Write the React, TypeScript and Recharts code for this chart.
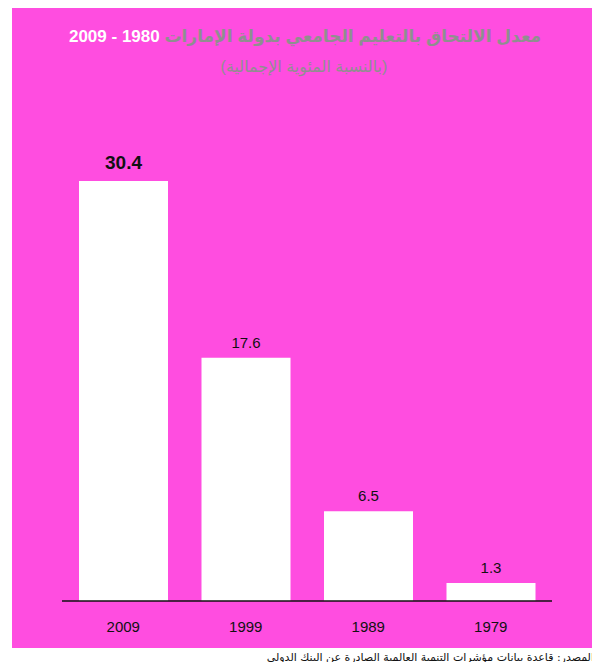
import React from "react";
import { BarChart, Bar, XAxis, YAxis, LabelList } from "recharts";

const years = ["2009", "1999", "1989", "1979"];
const rates = [30.4, 17.6, 6.5, 1.3];

const titleArabic = "معدل الالتحاق بالتعليم الجامعي بدولة الإمارات";
const titleYears = "1980 - 2009";
const subtitle = "(بالنسبة المئوية الإجمالية)";
const source = "المصدر: قاعدة بيانات مؤشرات التنمية العالمية الصادرة عن البنك الدولي";

const data = years.map((y, i) => ({ year: y, value: rates[i] }));

const BarLabel = (props: any) => {
  const { x, y, width, value, index } = props;
  const first = index === 0;
  return (
    <text
      x={x + width / 2}
      y={y - (first ? 12 : 10)}
      textAnchor="middle"
      fontFamily="'Liberation Sans', Arial, sans-serif"
      fontSize={first ? 19 : 15}
      fontWeight={first ? "bold" : "normal"}
      fill="#111"
    >
      {value}
    </text>
  );
};

export default function App() {
  return (
    <div style={{ position: "relative", margin: -8, width: 600, height: 670, background: "#fff", overflow: "hidden" }}>
      <div style={{ position: "absolute", left: 12, top: 4, width: 588, height: 644, background: "#ff4de0" }} />
      <div
        style={{
          position: "absolute",
          left: 0,
          top: 26,
          width: 610,
          textAlign: "center",
          direction: "rtl",
          fontFamily: "'Liberation Sans', 'DejaVu Sans', Arial, sans-serif",
          fontWeight: "bold",
          fontSize: 17,
          lineHeight: "22px",
        }}
      >
        <span style={{ color: "#8f8f8f" }}>{titleArabic}</span>{" "}
        <span style={{ color: "#ffffff" }}>{titleYears}</span>
      </div>
      <div
        style={{
          position: "absolute",
          left: 0,
          top: 56,
          width: 608,
          textAlign: "center",
          direction: "rtl",
          fontFamily: "'Liberation Sans', 'DejaVu Sans', Arial, sans-serif",
          fontSize: 16,
          lineHeight: "22px",
          color: "#8f8f8f",
        }}
      >
        {subtitle}
      </div>
      <div style={{ position: "absolute", left: 0, top: 0 }}>
        <BarChart
          width={600}
          height={670}
          data={data}
          margin={{ top: 181, right: 48, bottom: 39, left: 62 }}
          barCategoryGap={17}
        >
          <YAxis hide domain={[0, 30.4]} />
          <XAxis
            dataKey="year"
            height={30}
            axisLine={{ stroke: "#111", strokeWidth: 1.5 }}
            tickLine={false}
            tickMargin={14}
            tick={{ fill: "#111", fontSize: 15, fontFamily: "'Liberation Sans', Arial, sans-serif" }}
            interval={0}
          />
          <Bar dataKey="value" fill="#ffffff" isAnimationActive={false}>
            <LabelList dataKey="value" content={BarLabel} />
          </Bar>
        </BarChart>
      </div>
      <div
        style={{
          position: "absolute",
          left: 0,
          width: 594,
          top: 650,
          direction: "rtl",
          textAlign: "right",
          fontFamily: "'DejaVu Sans', 'Liberation Sans', sans-serif",
          fontSize: 11,
          lineHeight: "16px",
          color: "#111",
          whiteSpace: "nowrap",
        }}
      >
        {source}
      </div>
    </div>
  );
}
